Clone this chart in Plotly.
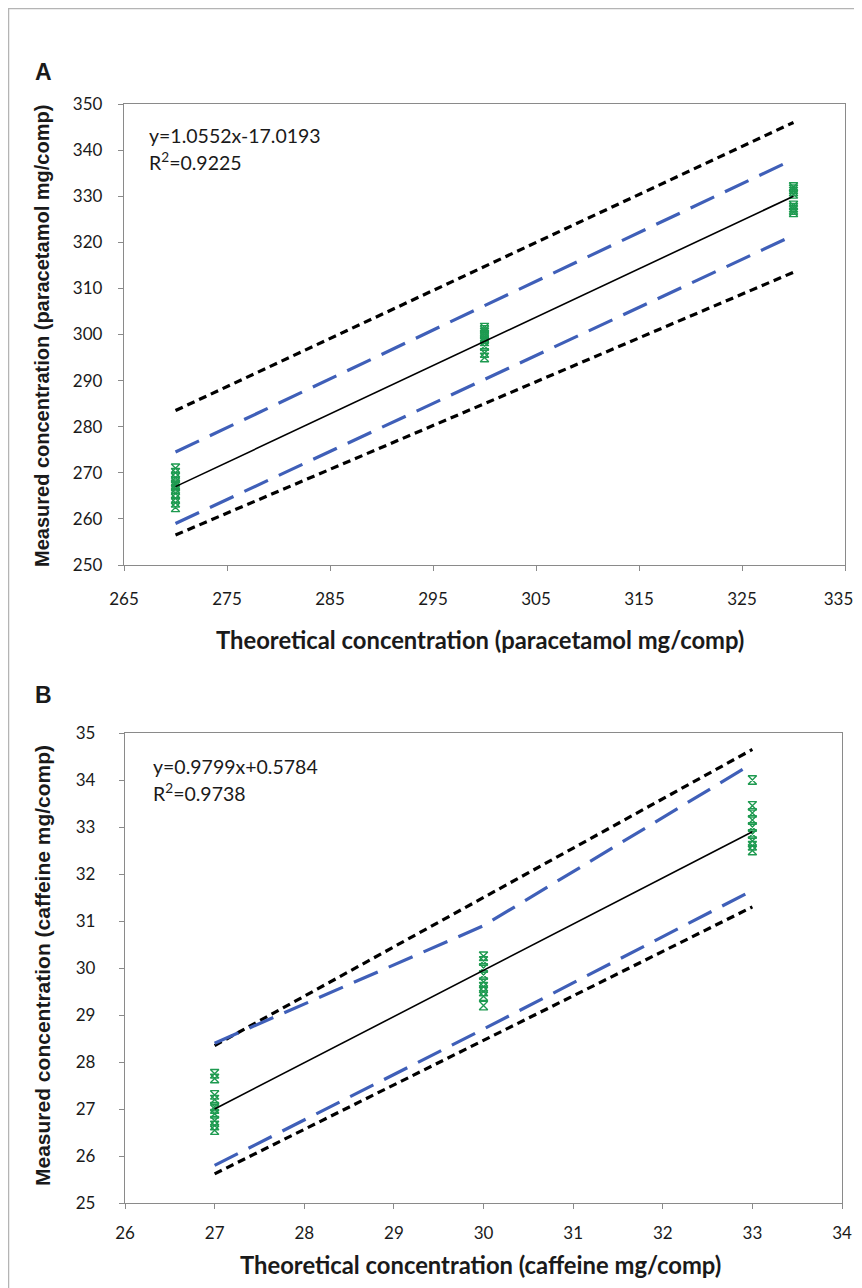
import plotly.graph_objects as go

# ---------------- Panel A data (paracetamol) ----------------
a_x_levels = [270, 300, 330]
a_meas_270 = [262.5, 263.5, 264.5, 265.5, 266.5, 267.0, 267.5, 268.0, 269.0, 270.0, 271.0]
a_meas_300 = [295.0, 296.0, 297.5, 298.5, 299.0, 299.5, 300.0, 300.5, 301.0, 301.5]
a_meas_330 = [326.5, 327.0, 327.5, 328.0, 330.5, 331.0, 331.5, 332.0]
a_fit_x = [270, 330]
a_fit_y = [267.0, 330.0]
a_pred_upper = [283.5, 346.0]
a_pred_lower = [256.5, 313.5]
a_conf_upper = [274.5, 338.0]
a_conf_lower = [259.0, 321.5]
a_xticks = [265, 275, 285, 295, 305, 315, 325, 335]
a_xticklabels = ["265", "275", "285", "295", "305", "315", "325", "335\u00a0\u00a0\u00a0"]
a_yticks = [250, 260, 270, 280, 290, 300, 310, 320, 330, 340, 350]

# ---------------- Panel B data (caffeine) ----------------
b_x_levels = [27, 30, 33]
b_meas_27 = [27.75, 27.65, 27.3, 27.2, 27.05, 27.0, 26.9, 26.75, 26.65, 26.55]
b_meas_30 = [30.25, 30.15, 30.0, 29.85, 29.7, 29.6, 29.5, 29.4, 29.2]
b_meas_33 = [34.0, 33.45, 33.3, 33.15, 33.0, 32.85, 32.7, 32.6, 32.5]
b_fit_x = [27, 33]
b_fit_y = [27.0, 32.9]
b_pred_x = [27, 33]
b_pred_upper = [28.35, 34.65]
b_pred_lower = [25.62, 31.3]
b_conf_x = [27, 30, 33]
b_conf_upper = [28.4, 30.9, 34.35]
b_conf_lower = [25.8, 28.7, 31.65]
b_xticks = [26, 27, 28, 29, 30, 31, 32, 33, 34]
b_yticks = [25, 26, 27, 28, 29, 30, 31, 32, 33, 34, 35]

W, H = 862, 1288
OFF = 8  # page offset of the figure
GREEN = "#1e9a50"
BLUE = "#3f5fb8"
AXC = "#8a8a8a"
TXT = "#1a1a1a"
FONT = "Lato, 'Open Sans', sans-serif"
AR = "Liberation Sans, Arial, sans-serif"


def fx(p):
    return (p - OFF) / W


def fy(p):
    return 1 - (p - OFF) / H


fig = go.Figure()


def add_panel(xa, ya, levels, meas_lists, fit_x, fit_y, px, pu, pl, cx, cu, cl):
    for xv, ms in zip(levels, meas_lists):
        fig.add_trace(go.Scatter(
            x=[xv] * len(ms), y=ms, mode="markers", xaxis=xa, yaxis=ya,
            marker=dict(symbol="hourglass-open", size=8.5, color=GREEN,
                        line=dict(color=GREEN, width=1.4)),
            showlegend=False, hoverinfo="skip"))
    for yy in (pu, pl):
        fig.add_trace(go.Scatter(
            x=px, y=yy, mode="lines", xaxis=xa, yaxis=ya,
            line=dict(color="black", width=3.2, dash="8px,5px"),
            showlegend=False, hoverinfo="skip"))
    for yy in (cu, cl):
        fig.add_trace(go.Scatter(
            x=cx, y=yy, mode="lines", xaxis=xa, yaxis=ya,
            line=dict(color=BLUE, width=3.2, dash="26px,12px"),
            showlegend=False, hoverinfo="skip"))
    fig.add_trace(go.Scatter(
        x=fit_x, y=fit_y, mode="lines", xaxis=xa, yaxis=ya,
        line=dict(color="black", width=1.6),
        showlegend=False, hoverinfo="skip"))


add_panel("x", "y", a_x_levels, [a_meas_270, a_meas_300, a_meas_330],
          a_fit_x, a_fit_y, a_fit_x, a_pred_upper, a_pred_lower,
          a_fit_x, a_conf_upper, a_conf_lower)
add_panel("x2", "y2", b_x_levels, [b_meas_27, b_meas_30, b_meas_33],
          b_fit_x, b_fit_y, b_pred_x, b_pred_upper, b_pred_lower,
          b_conf_x, b_conf_upper, b_conf_lower)

axis_common = dict(showgrid=False, zeroline=False, showline=True, linecolor=AXC,
                   linewidth=1.3, mirror=True, ticks="outside", ticklen=5,
                   tickcolor=AXC, automargin=False,
                   tickfont=dict(family=FONT, size=17, color=TXT))

fig.update_layout(
    template="none",
    width=W, height=H, margin=dict(l=0, r=0, t=0, b=0, pad=0, autoexpand=False),
    paper_bgcolor="white", plot_bgcolor="white", showlegend=False,
    xaxis=dict(domain=[fx(124), fx(845)], range=[265, 335], tickvals=a_xticks,
               ticktext=a_xticklabels,
               anchor="y", ticklabelstandoff=13, **axis_common),
    yaxis=dict(domain=[fy(565), fy(104)], range=[250, 350], tickvals=a_yticks,
               anchor="x", ticklabelstandoff=12, **axis_common),
    xaxis2=dict(domain=[fx(125), fx(842)], range=[26, 34], tickvals=b_xticks,
                anchor="y2", ticklabelstandoff=9, **axis_common),
    yaxis2=dict(domain=[fy(1203), fy(733)], range=[25, 35], tickvals=b_yticks,
                anchor="x2", ticklabelstandoff=20, **axis_common),
)

# outer frame
fig.add_shape(type="rect", xref="paper", yref="paper",
              x0=0.0, x1=1.02, y0=-0.02, y1=1.0,
              line=dict(color="#b4b4b4", width=2.5), layer="below")


def ann(x, y, text, size, angle=0, family=FONT, xanchor="center"):
    fig.add_annotation(xref="paper", yref="paper", x=fx(x), y=fy(y), text=text,
                       showarrow=False, textangle=angle, xanchor=xanchor, yanchor="middle",
                       font=dict(family=family, size=size, color=TXT))


ann(43, 72, "<b>A</b>", 23, family=AR)
ann(43, 695, "<b>B</b>", 23, family=AR)
ann(147, 136, "y=1.0552x-17.0193", 19.5, xanchor="left")
ann(147, 162, "R<sup>2</sup>=0.9225", 19.5, xanchor="left")
ann(151, 766, "y=0.9799x+0.5784", 19.5, xanchor="left")
ann(151, 792, "R<sup>2</sup>=0.9738", 19.5, xanchor="left")
ann(480, 640, "<b>Theoretical concentration (paracetamol mg/comp)</b>", 23.8)
ann(480, 1265, "<b>Theoretical concentration (caffeine mg/comp)</b>", 23.8)
ann(42, 336, "<b>Measured concentration (paracetamol mg/comp)</b>", 20, angle=-90, family=AR)
ann(42, 966, "<b>Measured concentration (caffeine mg/comp)</b>", 21, angle=-90, family=AR)

fig.write_html("out.html")
